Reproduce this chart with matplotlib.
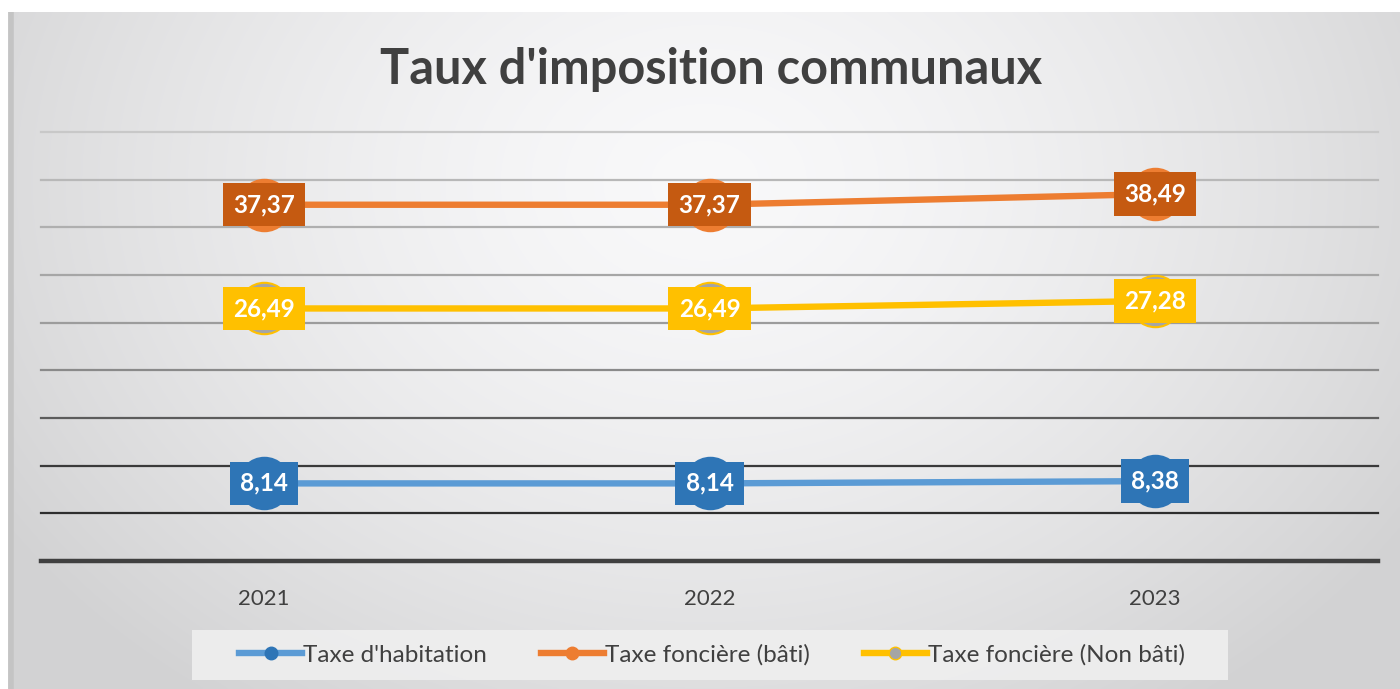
import numpy as np
import matplotlib
matplotlib.use("Agg")
import matplotlib.pyplot as plt
from matplotlib.lines import Line2D
from matplotlib.patches import Rectangle

years = ["2021", "2022", "2023"]
habitation = [8.14, 8.14, 8.38]
fonciere_bati = [37.37, 37.37, 38.49]
fonciere_non_bati = [26.49, 26.49, 27.28]
series_names = ["Taxe d'habitation", "Taxe foncière (bâti)", "Taxe foncière (Non bâti)"]
title = "Taux d'imposition communaux"

plt.rcParams['font.family'] = ['Lato', 'DejaVu Sans']

W, H = 1400, 689
fig = plt.figure(figsize=(W / 100, H / 100), dpi=100)
fig.patch.set_facecolor('white')

# background gradient
bg = fig.add_axes([8 / W, 0, (W - 8) / W, (H - 12) / H], zorder=0)
ny, nx = 300, 600
yy, xx = np.mgrid[0:ny, 0:nx]
cx, cy = nx * 0.5, ny * 0.25
r = np.sqrt(((xx - cx) / (nx * 0.6)) ** 2 + ((yy - cy) / (ny * 0.95)) ** 2)
r = np.clip(r, 0, 1)
val = 0.975 - 0.15 * r ** 1.5
img = np.dstack([val, val, val * 1.005])
img = np.clip(img, 0, 1)
bg.imshow(img, aspect='auto', extent=[0, 1, 0, 1], interpolation='bicubic')
bg.axvline(0.002, color='#c4c4c4', lw=4)
bg.set_axis_off()

ax = fig.add_axes([41 / W, 1 - 561 / H, 1337 / W, (561 - 132) / H], zorder=2)
ax.set_facecolor('none')
ax.set_xlim(-0.5, 2.5)
ax.set_ylim(0, 45)
for s in ax.spines.values():
    s.set_visible(False)

grid_vals = list(range(5, 50, 5))
grid_cols = ['#2e2e2e', '#3a3a3a', '#5c5c5c', '#8a8a8a', '#9c9c9c', '#a6a6a6', '#afafaf', '#b8b8b8', '#c8c8c8']
for v, c in zip(grid_vals, grid_cols):
    ax.axhline(v, color=c, lw=1.6, zorder=1, clip_on=False)
ax.axhline(0, color='#404040', lw=3.2, zorder=1, clip_on=False)

x = np.arange(len(years))
ax.set_xticks(x)
ax.set_xticklabels(years, fontsize=16, color='#404040')
ax.tick_params(axis='x', length=0, pad=20)
ax.set_yticks([])

specs = [
    (habitation, '#5B9BD5', '#2E75B6', '#2E75B6', '#2E75B6'),
    (fonciere_bati, '#ED7D31', '#ED7D31', '#ED7D31', '#C55A11'),
    (fonciere_non_bati, '#FFC000', '#A5A5A5', '#FFC000', '#FFC000'),
]
handles = []
for (vals, lc, mfc, mec, boxc), name in zip(specs, series_names):
    ax.plot(x, vals, color=lc, lw=4.6, zorder=3, solid_capstyle='butt')
    ax.plot(x, vals, linestyle='none', marker='o', ms=37, mfc=mfc, mec=mec, mew=1.5, zorder=4)
    for xi, v in zip(x, vals):
        ax.text(xi, v, f"{v:.2f}".replace('.', ','), ha='center', va='center',
                fontsize=17.5, fontweight='bold', color='white', zorder=6,
                bbox=dict(boxstyle='square,pad=0.42', fc=boxc, ec='none'))
    handles.append(Line2D([0], [0], color=lc, lw=4.6, marker='o', ms=9, mfc=mfc, mec=mec))

fig.text(711 / W, 1 - 69 / H, title, ha='center', va='center', fontsize=35,
         fontweight='bold', color='#404040')

# legend background panel
fig.patches.append(Rectangle((192 / W, 1 - 680 / H), (1228 - 192) / W, 50 / H,
                             transform=fig.transFigure, facecolor='#efefef',
                             edgecolor='none', alpha=0.9, zorder=1))
leg = fig.legend(handles, series_names, loc='center', bbox_to_anchor=(712 / W, 1 - 655 / H),
                 ncol=3, fontsize=17.5, frameon=False, handlelength=2.6, handletextpad=0.05,
                 columnspacing=2.2)
for t in leg.get_texts():
    t.set_color('#404040')

fig.savefig('out.png', dpi=100)
